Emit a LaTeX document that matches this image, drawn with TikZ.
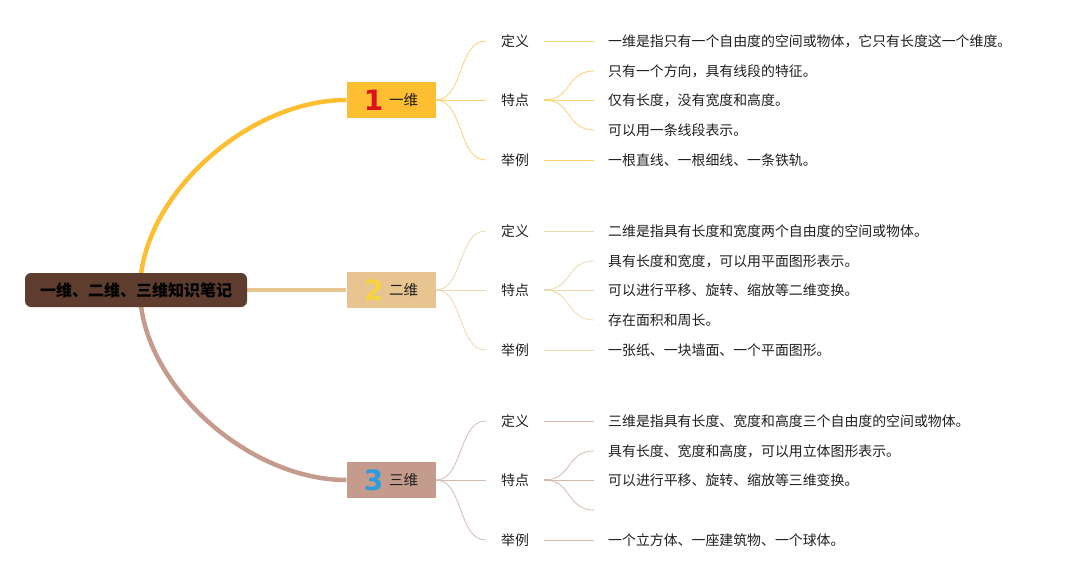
\documentclass[tikz,border=0pt]{standalone}
\usepackage{fontspec}
\newfontfamily\cjk{Noto Sans CJK SC}
\newfontfamily\numfont{DejaVu Sans}
\usetikzlibrary{backgrounds}
\definecolor{rootbrown}{HTML}{5E3D2F}
\definecolor{onecol}{HTML}{FDBE32}
\definecolor{twocol}{HTML}{E8C490}
\definecolor{threecol}{HTML}{C49B8C}
\definecolor{digred}{HTML}{D9121B}
\definecolor{digyel}{HTML}{F7D43F}
\definecolor{digblue}{HTML}{2B9BDC}
\definecolor{ink}{HTML}{1F1F1F}
\newcommand\dimnum[2]{\raisebox{-5pt}{\numfont\bfseries\fontsize{28}{28}\selectfont\textcolor{#1}{#2}}\hspace{6pt}}
\tikzset{
  rootbox/.style={fill=rootbrown,rounded corners=6pt,minimum width=222pt,minimum height=34pt,
    font=\cjk\bfseries\fontsize{16}{16}\selectfont,text=black},
  dimbox/.style={fill=#1,minimum width=89pt,minimum height=36pt,inner sep=0pt,
    font=\cjk\fontsize{14.5}{14.5}\selectfont,text=ink},
  tag/.style={minimum width=58pt,inner sep=0pt,font=\cjk\fontsize{13.9}{13.9}\selectfont,text=ink},
  leaf/.style={anchor=west,inner xsep=14pt,inner ysep=0pt,font=\cjk\fontsize{13.9}{13.9}\selectfont,text=ink},
  trunk/.style={line width=4.5pt,draw=#1},
  twig/.style={line width=0.8pt,draw=#1!70}
}
\begin{document}
\begin{tikzpicture}[x=1pt,y=-1pt]
    \useasboundingbox (0,0) rectangle (1075,580);
    \node[rootbox] (root) at (136,290) {一维、二维、三维知识笔记};
    \node[dimbox=onecol] (one) at (391,100) {\dimnum{digred}{1}一维};
    \node[dimbox=twocol] (two) at (391,290) {\dimnum{digyel}{2}二维};
    \node[dimbox=threecol] (three) at (391,480) {\dimnum{digblue}{3}三维};
    \foreach \n/\y in {one/100,two/290,three/480}
    {
    \node[tag] (\n-def) at (515,{\y-59}) {定义};
    \node[tag] (\n-feat) at (515,\y) {特点};
    \node[tag] (\n-ex) at (515,{\y+60}) {举例};
    }
    \node[leaf] (one-def-t) at (594,41) {一维是指只有一个自由度的空间或物体，它只有长度这一个维度。};
    \node[leaf] (one-fa) at (594,71) {只有一个方向，具有线段的特征。};
    \node[leaf] (one-fb) at (594,100) {仅有长度，没有宽度和高度。};
    \node[leaf] (one-fc) at (594,130) {可以用一条线段表示。};
    \node[leaf] (one-ex-t) at (594,160) {一根直线、一根细线、一条铁轨。};
    \node[leaf] (two-def-t) at (594,231) {二维是指具有长度和宽度两个自由度的空间或物体。};
    \node[leaf] (two-fa) at (594,261) {具有长度和宽度，可以用平面图形表示。};
    \node[leaf] (two-fb) at (594,290) {可以进行平移、旋转、缩放等二维变换。};
    \node[leaf] (two-fc) at (594,320) {存在面积和周长。};
    \node[leaf] (two-ex-t) at (594,350) {一张纸、一块墙面、一个平面图形。};
    \node[leaf] (three-def-t) at (594,421) {三维是指具有长度、宽度和高度三个自由度的空间或物体。};
    \node[leaf] (three-fa) at (594,451) {具有长度、宽度和高度，可以用立体图形表示。};
    \node[leaf] (three-fb) at (594,480) {可以进行平移、旋转、缩放等三维变换。};
    \node[leaf] (three-fc) at (594,510) {};
    \node[leaf] (three-ex-t) at (594,540) {一个立方体、一座建筑物、一个球体。};
    \foreach \n/\c in {one/onecol,two/twocol,three/threecol}
    {
    \draw[twig=\c] (\n.east) .. controls +(28,0) and +(-28,0) .. (\n-def.west);
    \draw[twig=\c] (\n.east) -- (\n-feat.west);
    \draw[twig=\c] (\n.east) .. controls +(28,0) and +(-28,0) .. (\n-ex.west);
    \draw[twig=\c] (\n-def.east) -- (\n-def-t.west);
    \draw[twig=\c] (\n-ex.east) -- (\n-ex-t.west);
    \draw[twig=\c] (\n-feat.east) -- (\n-fb.west);
    \draw[twig=\c] (\n-feat.east) .. controls +(28,0) and +(-28,0) .. (\n-fa.west);
    \draw[twig=\c] (\n-feat.east) .. controls +(28,0) and +(-28,0) .. (\n-fc.west);
    \draw[line width=2pt,draw=\c!70] (\n-feat.east) -- +(6,0);
    }
    \begin{scope}[on background layer]
    \draw[trunk=onecol] ([xshift=4pt]root.center) .. controls +(0,-93) and +(-99,0) .. (one.west);
    \draw[trunk=twocol] (root.east) -- (two.west);
    \draw[trunk=threecol] ([xshift=4pt]root.center) .. controls +(0,93) and +(-99,0) .. (three.west);
    \end{scope}
\end{tikzpicture}
\end{document}
